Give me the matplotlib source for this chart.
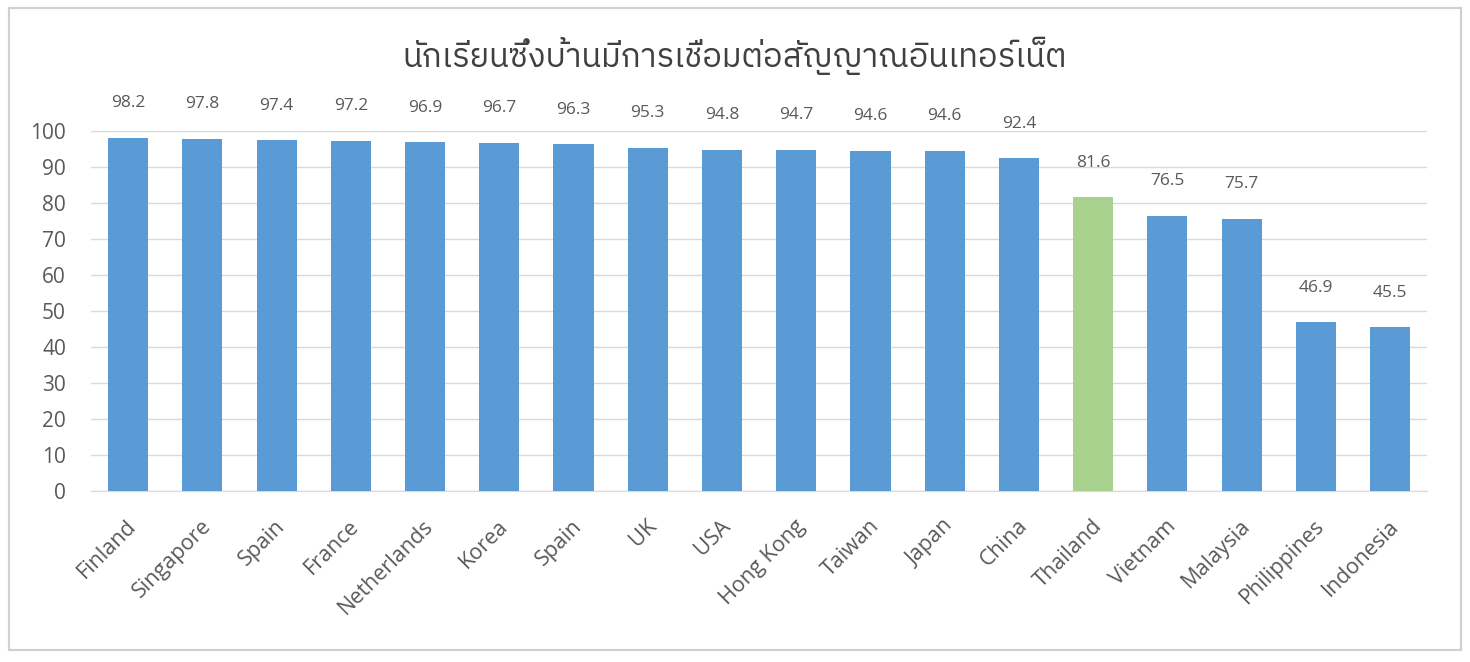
import matplotlib
matplotlib.use('Agg')
import matplotlib.pyplot as plt
import matplotlib.patches as patches
import matplotlib.transforms as mtransforms
from matplotlib import font_manager

countries = ['Finland', 'Singapore', 'Spain', 'France', 'Netherlands', 'Korea', 'Spain',
             'UK', 'USA', 'Hong Kong', 'Taiwan', 'Japan', 'China', 'Thailand',
             'Vietnam', 'Malaysia', 'Philippines', 'Indonesia']
values = [98.2, 97.8, 97.4, 97.2, 96.9, 96.7, 96.3, 95.3, 94.8, 94.7, 94.6, 94.6,
          92.4, 81.6, 76.5, 75.7, 46.9, 45.5]
highlight = 'Thailand'
title = 'นักเรียนซึ่งบ้านมีการเชื่อมต่อสัญญาณอินเทอร์เน็ต'

# find a font with thai glyphs for the title
names = sorted({f.name for f in font_manager.fontManager.ttflist})
thai = [n for n in names if 'Thai' in n or 'Loma' in n or 'Garuda' in n or 'Sarabun' in n]

blue = '#5B9BD5'
green = '#A9D18E'
text_grey = '#595959'

plt.rcParams['font.family'] = ['Open Sans', 'DejaVu Sans']

fig = plt.figure(figsize=(14.7, 6.62), dpi=100)
ax = fig.add_axes([0.0619, 0.258, 0.909, 0.544])

x = range(len(countries))
colors = [green if c == highlight else blue for c in countries]
ax.bar(x, values, width=0.54, color=colors, zorder=3)

for i, v in enumerate(values):
    ax.annotate(f'{v:.1f}', (i, v), xytext=(0, 25), textcoords='offset points',
                ha='center', va='center', fontsize=12.5, color=text_grey)

ax.set_xlim(-0.5, len(countries) - 0.5)
ax.set_ylim(0, 100)
ax.set_yticks(range(0, 101, 10))
ax.yaxis.grid(True, color='#D9D9D9', linewidth=1, zorder=0)
ax.tick_params(axis='y', length=0, pad=18, labelsize=15, labelcolor=text_grey)
ax.tick_params(axis='x', length=0, pad=6, labelsize=15.5, labelcolor=text_grey)
for s in ['top', 'right', 'left']:
    ax.spines[s].set_visible(False)
ax.spines['bottom'].set_color('#D9D9D9')

ax.set_xticks(list(x))
ax.set_xticklabels(countries, rotation=45, ha='right', rotation_mode='anchor')
shift = mtransforms.ScaledTranslation(-2 / 100, -16 / 100, fig.dpi_scale_trans)
for lab in ax.get_xticklabels():
    lab.set_transform(lab.get_transform() + shift)

fig.text(0.5, 0.915, title, ha='center', va='center', fontsize=23.5, color='#404040',
         family=thai + ['DejaVu Sans'])

fig.patches.append(patches.Rectangle((0.006, 0.018), 0.988, 0.97, transform=fig.transFigure,
                                     fill=False, edgecolor='#D0D0D0', linewidth=1.5))

fig.savefig('out.png', dpi=100)
